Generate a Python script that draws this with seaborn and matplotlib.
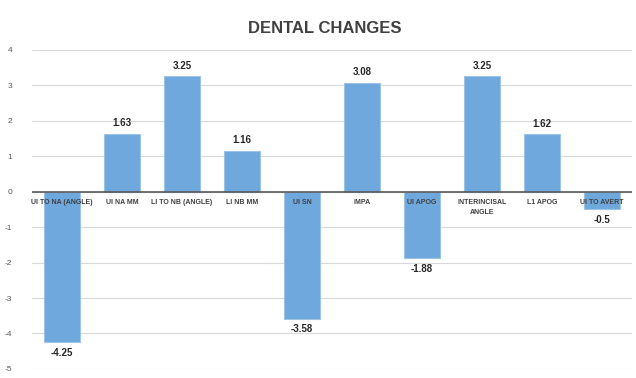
import matplotlib
matplotlib.use("Agg")
from matplotlib import pyplot as plt
import seaborn as sns
import pandas as pd

categories = ["UI TO NA (ANGLE)", "UI NA MM", "LI TO NB (ANGLE)", "LI NB MM", "UI SN",
              "IMPA", "UI APOG", "INTERINCISAL\nANGLE", "L1 APOG", "UI TO AVERT"]
values = [-4.25, 1.63, 3.25, 1.16, -3.58, 3.08, -1.88, 3.25, 1.62, -0.5]
value_labels = ["-4.25", "1.63", "3.25", "1.16", "-3.58", "3.08", "-1.88", "3.25", "1.62", "-0.5"]
yticks = [4, 3, 2, 1, 0, -1, -2, -3, -4, -5]

df = pd.DataFrame({"category": categories, "value": values})

sns.set_style("white")
plt.rcParams['font.family'] = ['Liberation Sans', 'DejaVu Sans']

fig = plt.figure(figsize=(6.36, 3.78), dpi=100)
ax = fig.add_axes([0.05, 0.024, 0.944, 0.844])

sns.barplot(data=df, x="category", y="value", color="#6FA8DC", saturation=1,
            width=0.6, edgecolor="#9DC3E6", linewidth=0.8, ax=ax, zorder=2)

ax.set_ylim(-5, 4)
ax.set_yticks(yticks)
ax.set_yticklabels([str(t) for t in yticks], fontsize=6, color="#595959")
ax.tick_params(axis="y", length=0, pad=14)
ax.grid(axis="y", color="#D9D9D9", linewidth=0.8, zorder=0)
ax.set_axisbelow(True)
ax.axhline(0, color="#595959", linewidth=1.2, zorder=3)

ax.set_xticks([])
ax.set_xlabel("")
ax.set_ylabel("")
for s in ax.spines.values():
    s.set_visible(False)

# category labels drawn just below the zero line
for i, name in enumerate(categories):
    ax.text(i, -0.22, name, ha="center", va="top", fontsize=5, color="#404040",
            fontweight="bold", linespacing=1.5, zorder=4)

ax.bar_label(ax.containers[0], labels=value_labels, padding=4, fontsize=7,
             fontweight="bold", color="#262626")

fig.suptitle("DENTAL CHANGES", x=0.51, y=0.945, fontsize=12, fontweight="bold", color="#404040")

fig.savefig("out.png", dpi=100)
